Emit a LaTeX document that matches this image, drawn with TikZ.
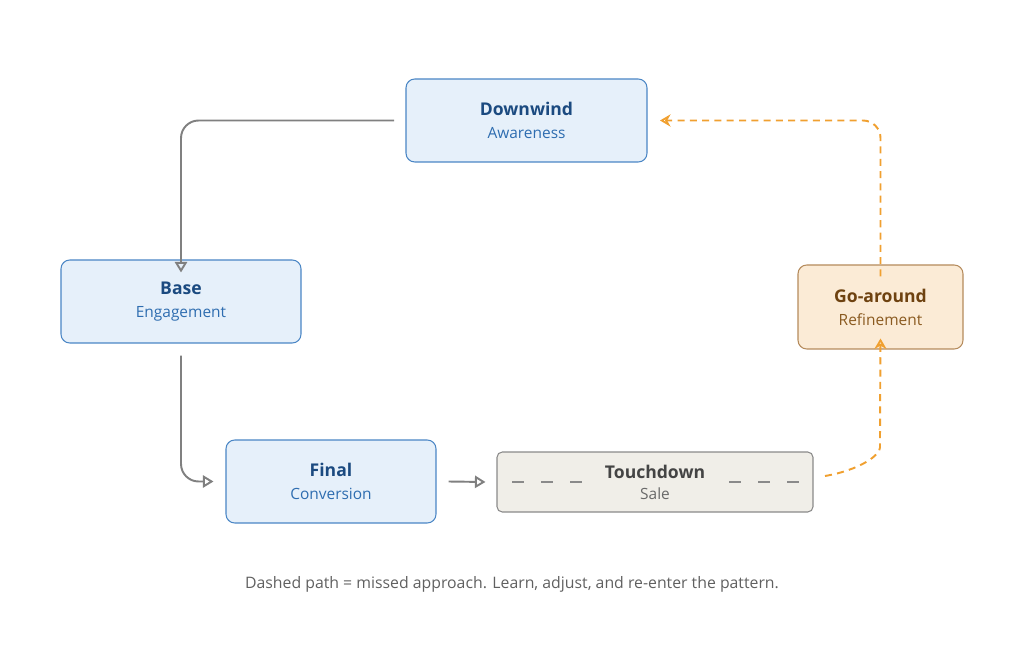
\documentclass[tikz,border=0pt]{standalone}
\usepackage{fontspec}
\setmainfont{Open Sans}
\usetikzlibrary{arrows.meta}
\definecolor{bluefill}{HTML}{E6F0FA}
\definecolor{blueline}{HTML}{4A86C5}
\definecolor{bluetitle}{HTML}{1B4A80}
\definecolor{bluesub}{HTML}{2E6DB0}
\definecolor{grayfill}{HTML}{F0EEE8}
\definecolor{grayline}{HTML}{8A8A8A}
\definecolor{graytext}{HTML}{444444}
\definecolor{orangefill}{HTML}{FBEBD6}
\definecolor{orangeline}{HTML}{B58B5C}
\definecolor{orangetext}{HTML}{6E4210}
\definecolor{orangesub}{HTML}{8A5A20}
\definecolor{arrowgray}{HTML}{808080}
\definecolor{arroworange}{HTML}{F0A030}
\tikzset{
  leg/.style={draw=blueline, fill=bluefill, rounded corners=5pt, line width=0.6pt, align=center, inner sep=0pt},
  flow/.style={draw=arrowgray, line width=1.1pt, rounded corners=10pt, -{Stealth[length=6pt,width=7pt,inset=0pt,open]}},
  miss/.style={draw=arroworange, line width=1.1pt, dashed, dash pattern=on 4pt off 3pt, rounded corners=10pt, -{Stealth[length=6pt,width=7pt,open]}}
}
\begin{document}
\begin{tikzpicture}[x=0.02cm,y=-0.02cm]
	
	\useasboundingbox (0,0) rectangle (1024,648);
	
	\node[leg, minimum width=241*0.02cm, minimum height=83*0.02cm] (down) at (526.5,120.5)
	  {{\bfseries\color{bluetitle}\fontsize{10}{14}\selectfont Downwind}\\[1pt]{\color{bluesub}\fontsize{8.8}{12}\selectfont Awareness}};
	\node[leg, minimum width=240*0.02cm, minimum height=83*0.02cm] (base) at (181,301.5)
	  {{\bfseries\color{bluetitle}\fontsize{10}{14}\selectfont Base}\\[1pt]{\color{bluesub}\fontsize{8.8}{12}\selectfont Engagement}};
	\node[leg, minimum width=210*0.02cm, minimum height=83*0.02cm] (final) at (331,481.5)
	  {{\bfseries\color{bluetitle}\fontsize{10}{14}\selectfont Final}\\[1pt]{\color{bluesub}\fontsize{8.8}{12}\selectfont Conversion}};
	\node[leg, draw=grayline, fill=grayfill, rounded corners=3pt, minimum width=316*0.02cm, minimum height=60*0.02cm] (touch) at (655,482)
	  {{\bfseries\color{graytext}\fontsize{10}{13}\selectfont Touchdown}\\{\color{graytext!80}\fontsize{8.8}{11}\selectfont Sale}};
	\node[leg, draw=orangeline, fill=orangefill, minimum width=165*0.02cm, minimum height=84*0.02cm] (go) at (880.5,307)
	  {{\bfseries\color{orangetext}\fontsize{10}{14}\selectfont Go-around}\\[1pt]{\color{orangesub}\fontsize{8.8}{12}\selectfont Refinement}};
	
	% dashes inside touchdown
	\foreach \x in {512,541,570,729,758,787}
	\draw[grayline, line width=0.8pt] (\x,482) -- ++(12,0);
	
	\coordinate (dl) at (394,120.5);
	\coordinate (da) at (660,120.5);
	\draw[flow] (dl) -| ([yshift=-13*0.02cm]base.north);
	\draw[flow] ([yshift=-12*0.02cm]base.south) |- ([xshift=-12*0.02cm]final.west);
	\draw[flow] ([xshift=12*0.02cm]final.east) -- ([xshift=-11*0.02cm]touch.west);
	\draw[miss] (825,476) .. controls (860,470) and (880,455) .. (880,430) -- ([yshift=11*0.02cm]go.south);
	\draw[miss] ([yshift=-12*0.02cm]go.north) |- (da);
	
	\node[text=graytext!85, font=\fontsize{9}{11}\selectfont] (note) at (512,584)
	  {Dashed path = missed approach. Learn, adjust, and re-enter the pattern.};
	
\end{tikzpicture}
\end{document}
